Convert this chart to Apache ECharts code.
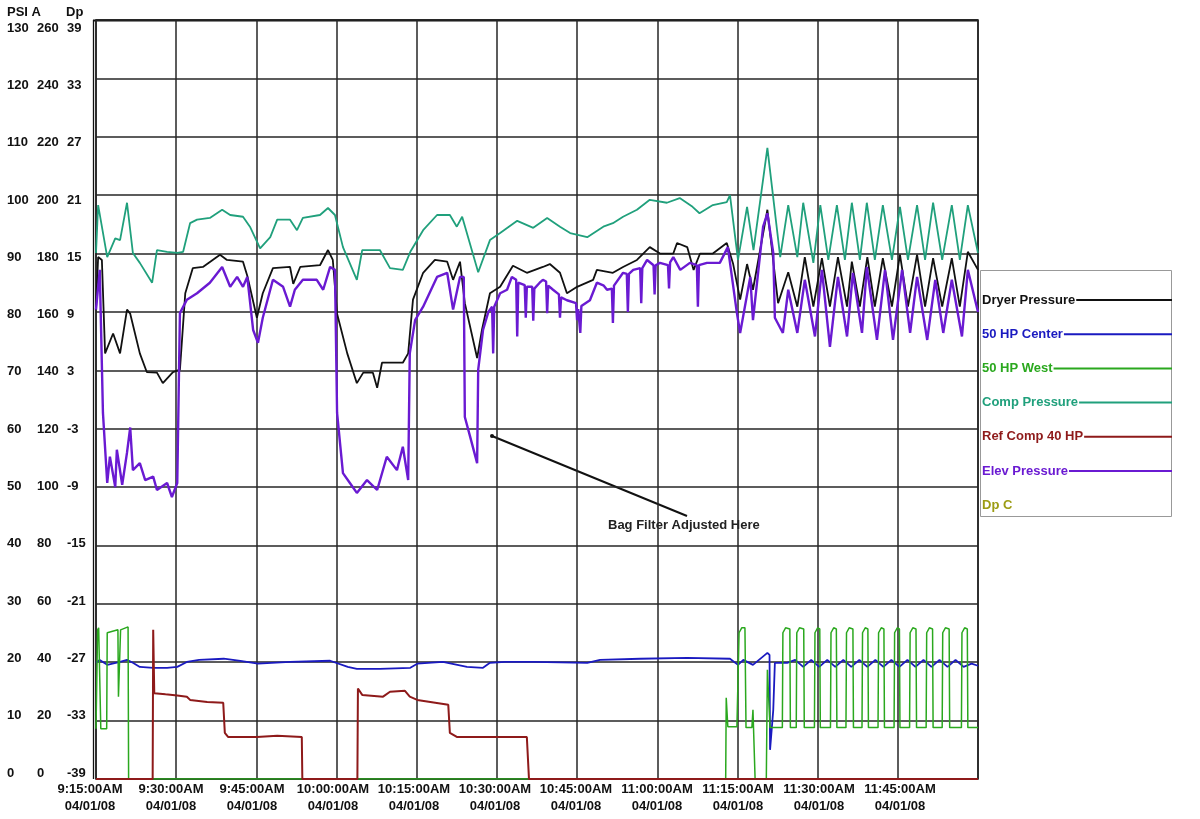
<!DOCTYPE html>
<html>
<head>
<meta charset="utf-8">
<script src="https://cdn.jsdelivr.net/npm/echarts@6/dist/echarts.min.js"></script>
<style>
html, body { margin: 0; padding: 0; background: #fff; }
#chart { width: 1200px; height: 819px; }
</style>
</head>
<body>
<div id="chart"></div>
<script>
// x values are minutes after 9:15:00AM
const xTickLabels = ['9:15:00AM\n04/01/08', '9:30:00AM\n04/01/08', '9:45:00AM\n04/01/08', '10:00:00AM\n04/01/08',
  '10:15:00AM\n04/01/08', '10:30:00AM\n04/01/08', '10:45:00AM\n04/01/08', '11:00:00AM\n04/01/08',
  '11:15:00AM\n04/01/08', '11:30:00AM\n04/01/08', '11:45:00AM\n04/01/08', ''];
const psiTicks = ['0', '10', '20', '30', '40', '50', '60', '70', '80', '90', '100', '110', '120', '130'];
const ampTicks = ['0', '20', '40', '60', '80', '100', '120', '140', '160', '180', '200', '220', '240', '260'];
const dpTicks = ['-39', '-33', '-27', '-21', '-15', '-9', '-3', '3', '9', '15', '21', '27', '33', '39'];

// Dryer Pressure (PSI A)
const dryerTime = [0, 0.4, 1.1, 1.7, 3.2, 4.5, 5.8, 6.4, 8.2, 9.5,
  11.4, 12.5, 14.4, 15.7, 16.7, 18.1, 20.0, 23.2, 24.5, 27.5,
  28.3, 30.1, 31.2, 33.1, 36.3, 36.9, 38.2, 41.9, 43.4, 44.3,
  45.1, 47.0, 48.8, 50.0, 51.8, 52.6, 53.5, 57.4, 58.4, 59.3,
  61.2, 63.4, 65.7, 66.8, 68.1, 69.0, 71.3, 72.2, 73.7, 75.6,
  78.0, 80.6, 83.6, 84.9, 86.8, 88.1, 90.0, 93.0, 93.7, 96.7,
  98.6, 101.2, 103.6, 105.5, 108.0, 108.7, 110.6, 111.8, 113.0, 115.4,
  118.0, 119.2, 120.5, 121.8, 122.9, 125.6, 127.6, 129.5, 131.2, 132.6,
  134.2, 135.8, 137.3, 138.8, 140.5, 141.4, 142.9, 144.3, 145.7, 147.2,
  148.9, 150.4, 151.9, 153.6, 155.1, 156.6, 158.3, 160.1, 161.6, 163.1,
  165];
const dryerVal = [80.4, 89.4, 88.9, 72.9, 76.3, 72.9, 80.4, 79.7, 72.9, 69.7,
  69.6, 67.8, 69.7, 70.1, 83.2, 87.5, 87.7, 89.8, 88.9, 88.6,
  86.2, 79.0, 83.2, 87.5, 87.7, 84.8, 87.7, 88.0, 90.6, 88.9,
  79.7, 72.9, 67.8, 69.6, 69.6, 67.0, 71.3, 71.3, 72.9, 82.1,
  86.7, 88.9, 88.6, 85.5, 88.6, 81.5, 72.1, 76.9, 83.2, 84.3,
  87.9, 86.7, 87.7, 88.2, 86.7, 83.2, 84.3, 85.5, 87.2, 86.7,
  87.7, 88.9, 91.1, 90.0, 90.0, 91.8, 91.1, 87.2, 90.0, 90.0,
  91.8, 88.2, 82.1, 88.2, 83.8, 97.5, 81.5, 86.8, 80.9, 89.4,
  80.9, 89.2, 80.9, 89.4, 80.9, 88.6, 80.9, 89.4, 80.9, 89.2,
  80.9, 89.8, 80.9, 89.8, 80.9, 89.2, 80.9, 89.2, 80.9, 90.3,
  87.2];

// 50 HP Center (amps)
const centerTime = [0, 0.7, 2.1, 4.5, 5.8, 6.9, 8.2, 10.7, 13.3, 15.2,
  17.0, 19.3, 23.9, 27.0, 30.3, 36.3, 43.8, 47.1, 48.8, 53.1,
  58.8, 60.1, 64.9, 69.4, 72.4, 73.7, 76.5, 81.8, 91.9, 94.3,
  101.8, 110.6, 118.6, 120.1, 121.1, 122.9, 125.6, 126.0, 126.1, 126.7,
  127.0, 129.3, 130.8, 132.3, 133.8, 135.3, 136.8, 138.3, 139.8, 141.3,
  142.8, 144.3, 145.8, 147.3, 148.8, 150.3, 151.8, 153.3, 154.8, 156.3,
  157.8, 159.3, 160.8, 162.3, 163.8, 165];
const centerVal = [39.8, 40.8, 39.1, 40.1, 40.8, 39.8, 38.4, 38.1, 38.1, 38.4,
  40.1, 40.8, 41.2, 40.5, 39.5, 40.1, 40.5, 38.4, 37.7, 37.7,
  38.1, 39.5, 40.1, 38.4, 38.1, 39.8, 40.1, 40.1, 39.8, 40.8,
  41.2, 41.5, 41.2, 39.1, 40.8, 39.1, 43.2, 42.5, 10.0, 23.7,
  39.8, 39.8, 40.8, 38.4, 40.8, 38.4, 40.8, 38.4, 40.8, 38.4,
  40.8, 38.4, 40.8, 38.4, 40.8, 38.4, 40.8, 38.4, 40.8, 38.4,
  40.8, 38.4, 40.8, 38.4, 39.5, 38.8];

// 50 HP West (amps)
const westTime = [0, 0.3, 0.5, 0.8, 0.9, 2.0, 2.1, 4.1, 4.2, 4.6,
  6.0, 6.1, 117.8, 117.9, 118.2, 119.9, 120.3, 120.8, 121.4, 121.6,
  122.7, 122.9, 123.3, 125.4, 125.6, 126.1, 128.4, 128.5, 129.0, 129.8,
  129.9, 131.0, 131.1, 131.6, 132.4, 132.5, 134.4, 134.5, 135.0, 135.4,
  135.5, 137.4, 137.5, 138.0, 138.5, 138.6, 140.3, 140.4, 140.9, 141.6,
  141.7, 143.3, 143.4, 143.9, 144.4, 144.5, 146.3, 146.4, 146.9, 147.4,
  147.5, 149.3, 149.4, 149.9, 150.3, 150.4, 152.2, 152.3, 152.8, 153.4,
  153.5, 155.3, 155.4, 155.9, 156.5, 156.6, 158.3, 158.4, 158.9, 159.6,
  159.7, 161.9, 162.0, 162.5, 163.0, 163.1, 165];
const westVal = [17.2, 51.1, 51.8, 51.8, 17.2, 17.2, 50.1, 51.1, 28.2, 51.1,
  52.1, 0, 0, 27.8, 17.9, 17.9, 50.1, 51.8, 51.8, 17.6,
  17.6, 23.7, 0, 0, 37.4, 17.6, 17.6, 50.1, 51.8, 51.4,
  17.6, 17.6, 50.1, 51.8, 51.4, 17.6, 17.6, 50.1, 51.8, 51.4,
  17.6, 17.6, 50.1, 51.8, 51.4, 17.6, 17.6, 50.1, 51.8, 51.4,
  17.6, 17.6, 50.1, 51.8, 51.4, 17.6, 17.6, 50.1, 51.8, 51.4,
  17.6, 17.6, 50.1, 51.8, 51.4, 17.6, 17.6, 50.1, 51.8, 51.4,
  17.6, 17.6, 50.1, 51.8, 51.4, 17.6, 17.6, 50.1, 51.8, 51.4,
  17.6, 17.6, 50.1, 51.8, 51.4, 17.6, 17.6];

// Comp Pressure (PSI A)
const compTime = [0, 0.4, 2.1, 3.6, 4.5, 5.8, 6.9, 8.2, 10.5, 11.4,
  13.3, 15.2, 16.3, 17.6, 18.9, 21.3, 23.6, 25.1, 27.5, 28.8,
  30.7, 32.6, 33.9, 36.3, 37.6, 38.7, 41.9, 43.4, 44.7, 46.2,
  48.8, 49.8, 53.1, 55.0, 57.4, 58.8, 61.2, 63.8, 66.2, 67.5,
  68.5, 71.5, 73.7, 75.6, 78.8, 81.8, 84.4, 86.8, 88.7, 91.9,
  94.9, 96.7, 98.6, 101.2, 103.6, 106.8, 109.2, 111.6, 112.9, 115.4,
  118.0, 118.6, 120.1, 121.8, 123.0, 125.6, 128.0, 129.5, 131.2, 132.3,
  134.2, 135.5, 137.0, 138.6, 140.1, 141.4, 142.9, 144.2, 145.7, 147.2,
  148.9, 150.4, 151.9, 153.6, 155.1, 156.6, 158.3, 160.1, 161.6, 163.1,
  165];
const compVal = [90.1, 98.3, 89.4, 92.6, 92.3, 98.7, 90.1, 88.4, 85.0, 90.6,
  90.3, 90.1, 90.3, 95.2, 95.8, 96.1, 97.5, 96.6, 96.3, 94.6,
  90.9, 92.8, 95.8, 95.8, 94.0, 96.1, 96.6, 97.8, 96.6, 91.1,
  85.5, 90.6, 90.6, 87.5, 87.2, 90.3, 94.0, 96.6, 96.6, 94.6,
  96.3, 86.8, 92.3, 93.5, 95.6, 94.4, 96.1, 94.6, 93.5, 92.8,
  94.6, 95.2, 96.3, 97.5, 99.2, 98.7, 99.5, 98.0, 96.9, 98.3,
  98.8, 100.0, 88.9, 98.0, 90.6, 108.1, 89.4, 98.3, 89.4, 98.7,
  88.4, 98.3, 88.9, 98.3, 88.9, 98.7, 88.9, 98.7, 88.9, 98.3,
  88.9, 98.0, 88.9, 98.3, 88.9, 98.7, 88.9, 98.3, 88.9, 98.3,
  90.1];

// Ref Comp 40 HP (amps)
const refTime = [0, 10.6, 10.7, 10.9, 13.0, 15.2, 17.0, 17.6, 20.8, 23.8,
  24.1, 24.7, 30.1, 33.9, 38.5, 38.6, 48.9, 49.0, 49.8, 53.7,
  55.0, 57.8, 58.7, 60.1, 65.9, 66.2, 67.5, 80.6, 81.0, 165];
const refVal = [0, 0, 51.1, 29.4, 29.0, 28.6, 28.2, 27.1, 26.4, 26.1,
  15.8, 14.4, 14.4, 14.8, 14.4, 0, 0, 31.0, 28.8, 28.2,
  29.9, 30.2, 28.2, 27.1, 25.4, 15.8, 14.4, 14.4, 0, 0];

// Elev Pressure (PSI A)
const elevTime = [0, 0.7, 1.3, 2.1, 2.6, 3.6, 3.9, 4.9, 5.8, 6.4,
  6.9, 8.2, 9.2, 10.7, 11.4, 13.3, 14.2, 15.2, 15.7, 17.0,
  18.9, 21.3, 23.6, 25.1, 26.4, 27.5, 28.3, 29.4, 30.3, 31.2,
  33.1, 35.0, 36.3, 37.2, 38.7, 41.3, 42.5, 43.8, 44.7, 45.1,
  46.2, 47.5, 48.8, 50.7, 52.6, 54.4, 56.3, 57.4, 58.4, 58.7,
  59.7, 61.2, 63.8, 65.7, 66.8, 68.1, 68.8, 69.0, 70.0, 71.3,
  71.5, 72.4, 73.4, 74.1, 74.3, 74.5, 75.6, 76.9, 77.8, 78.6,
  78.8, 79.0, 80.2, 80.4, 80.6, 81.6, 81.8, 82.0, 83.0, 83.6,
  84.2, 84.4, 84.6, 85.5, 86.6, 86.8, 87.0, 88.1, 89.8, 90.0,
  90.2, 90.6, 90.8, 92.4, 93.7, 95.0, 95.6, 96.5, 96.7, 96.9,
  98.6, 99.3, 99.5, 99.7, 100.5, 101.8, 102.0, 102.2, 103.1, 104.3,
  104.5, 104.7, 105.5, 107.0, 107.2, 107.4, 108.0, 109.3, 111.1, 112.4,
  112.6, 112.8, 114.3, 116.7, 118.2, 119.9, 120.5, 122.4, 122.9, 124.8,
  125.6, 126.7, 127.0, 128.5, 129.5, 131.2, 132.6, 134.5, 135.8, 137.3,
  138.8, 140.5, 141.6, 143.3, 144.2, 146.1, 147.6, 149.1, 150.8, 152.3,
  153.6, 155.5, 157.0, 158.5, 160.1, 162.0, 163.1, 165];
const elevVal = [80.4, 87.2, 62.7, 50.7, 55.2, 50.0, 56.4, 50.4, 55.9, 60.2,
  52.9, 54.1, 51.2, 51.8, 49.5, 50.7, 48.3, 50.7, 79.8, 82.1,
  83.2, 85.0, 87.7, 84.3, 86.0, 84.3, 86.0, 76.9, 74.7, 79.0,
  85.5, 84.3, 80.9, 83.8, 85.5, 85.5, 83.8, 87.7, 87.2, 62.7,
  52.4, 50.7, 49.0, 51.2, 49.5, 55.2, 52.9, 56.9, 51.2, 72.9,
  78.6, 80.9, 86.0, 86.7, 80.4, 86.0, 86.0, 62.0, 58.6, 54.1,
  70.1, 76.9, 80.0, 80.9, 72.9, 80.9, 83.2, 83.8, 86.0, 85.5,
  75.8, 85.0, 84.6, 79.0, 84.3, 84.3, 78.5, 84.0, 85.0, 85.5,
  85.2, 79.8, 84.5, 83.8, 83.0, 79.0, 82.5, 82.0, 81.5, 78.6,
  80.5, 76.4, 81.0, 82.0, 85.0, 84.5, 83.8, 84.0, 78.1, 84.5,
  86.7, 86.5, 80.0, 86.5, 87.2, 87.5, 81.5, 87.5, 88.9, 88.0,
  83.0, 88.0, 88.4, 88.0, 84.0, 88.5, 89.4, 87.2, 88.4, 88.0,
  80.9, 88.0, 88.4, 88.4, 91.1, 79.8, 76.4, 86.0, 78.6, 94.6,
  96.9, 90.1, 79.0, 76.4, 83.8, 76.4, 85.5, 75.8, 87.2, 74.0,
  86.0, 75.8, 86.7, 76.4, 87.7, 75.2, 87.2, 75.2, 87.2, 76.4,
  86.0, 75.2, 85.5, 76.4, 85.5, 75.8, 87.2, 80.0];

// Dp C has no visible trace
const dpcTime = [];
const dpcVal = [];

const FAMILY = '"Liberation Sans", Arial, sans-serif';
const FONT = 'bold 13px ' + FAMILY;
const pairs = (t, v) => t.map((x, i) => [x, v[i]]);

const legendItems = [
  { name: 'Dryer Pressure', color: '#111111', line: true },
  { name: '50 HP Center', color: '#1a1ac0', line: true },
  { name: '50 HP West', color: '#2aa81e', line: true },
  { name: 'Comp Pressure', color: '#20a07c', line: true },
  { name: 'Ref Comp 40 HP', color: '#8e1a1a', line: true },
  { name: 'Elev Pressure', color: '#6a1ad2', line: true },
  { name: 'Dp C', color: '#9c9c14', line: false }
];

const measure = document.createElement('canvas').getContext('2d');
measure.font = FONT;

const graphics = [
  // double left border and heavier top border
  { type: 'line', silent: true, shape: { x1: 93.5, y1: 20, x2: 93.5, y2: 779 }, style: { stroke: '#111', lineWidth: 1.3 } },
  { type: 'line', silent: true, shape: { x1: 93, y1: 20.5, x2: 978, y2: 20.5 }, style: { stroke: '#111', lineWidth: 2 } },
  // axis headers
  { type: 'text', silent: true, x: 7, y: 12, style: { text: 'PSI A', font: FONT, fill: '#111', verticalAlign: 'middle' } },
  { type: 'text', silent: true, x: 66, y: 12, style: { text: 'Dp', font: FONT, fill: '#111', verticalAlign: 'middle' } },
  // legend box
  { type: 'rect', silent: true, shape: { x: 980.5, y: 270.5, width: 191, height: 246 }, style: { fill: '#fff', stroke: '#999', lineWidth: 1 } },
  // annotation
  { type: 'line', silent: true, shape: { x1: 492, y1: 436, x2: 687, y2: 516 }, style: { stroke: '#111', lineWidth: 2 } },
  { type: 'circle', silent: true, shape: { cx: 492, cy: 436, r: 2 }, style: { fill: '#111' } },
  { type: 'text', silent: true, x: 608, y: 525, style: { text: 'Bag Filter Adjusted Here', font: FONT, fill: '#222', verticalAlign: 'middle' } }
];

legendItems.forEach((it, i) => {
  const y = 300 + i * 34.2;
  graphics.push({ type: 'text', silent: true, x: 982, y: y, style: { text: it.name, font: FONT, fill: it.color, verticalAlign: 'middle' } });
  if (it.line) {
    const w = measure.measureText(it.name).width;
    graphics.push({ type: 'line', silent: true, shape: { x1: 982 + w + 1, y1: y, x2: 1172, y2: y }, style: { stroke: it.color, lineWidth: 2 } });
  }
});

const gridLine = { show: true, lineStyle: { color: '#262626', width: 1.5 } };
const labelAxisBase = {
  gridIndex: 1, type: 'value', min: 0, max: 13, interval: 1, position: 'left',
  axisLine: { show: false }, axisTick: { show: false }, splitLine: { show: false }
};
const labelText = { fontWeight: 'bold', fontSize: 13, fontFamily: FAMILY, color: '#111' };

const chart = echarts.init(document.getElementById('chart'));
chart.setOption({
  animation: false,
  backgroundColor: '#fff',
  grid: [
    { left: 96, right: 222, top: 20, bottom: 40, show: true, borderColor: '#111', borderWidth: 1.5, outerBoundsMode: 'none' },
    // label placement grid (labels in the original sit slightly off the gridlines)
    { left: 90, right: 219, top: 28, bottom: 46, show: false, outerBoundsMode: 'none' }
  ],
  xAxis: [
    { gridIndex: 0, type: 'value', min: 0, max: 165, interval: 15,
      axisLine: { show: false }, axisTick: { show: false }, axisLabel: { show: false }, splitLine: gridLine },
    { gridIndex: 1, type: 'value', min: 0, max: 165, interval: 15,
      axisLine: { show: false }, axisTick: { show: false }, splitLine: { show: false },
      axisLabel: Object.assign({ margin: 8, lineHeight: 17, showMinLabel: true, showMaxLabel: true,
        formatter: v => xTickLabels[Math.round(v / 15)] }, labelText) }
  ],
  yAxis: [
    { gridIndex: 0, type: 'value', min: 0, max: 130, interval: 10,
      axisLine: { show: false }, axisTick: { show: false }, axisLabel: { show: false }, splitLine: gridLine },
    { gridIndex: 0, type: 'value', min: 0, max: 260, show: false },
    { gridIndex: 0, type: 'value', min: -39, max: 39, show: false },
    Object.assign({}, labelAxisBase, { axisLabel: Object.assign({ align: 'left', margin: 83, formatter: v => psiTicks[Math.round(v)] }, labelText) }),
    Object.assign({}, labelAxisBase, { axisLabel: Object.assign({ align: 'left', margin: 53, formatter: v => ampTicks[Math.round(v)] }, labelText) }),
    Object.assign({}, labelAxisBase, { axisLabel: Object.assign({ align: 'left', margin: 23, formatter: v => dpTicks[Math.round(v)] }, labelText) })
  ],
  series: [
    { name: 'Dryer Pressure', type: 'line', xAxisIndex: 0, yAxisIndex: 0, showSymbol: false,
      lineStyle: { color: '#111111', width: 1.8 }, data: pairs(dryerTime, dryerVal) },
    { name: '50 HP Center', type: 'line', xAxisIndex: 0, yAxisIndex: 1, showSymbol: false,
      lineStyle: { color: '#1a1ac0', width: 1.8 }, data: pairs(centerTime, centerVal) },
    { name: '50 HP West', type: 'line', xAxisIndex: 0, yAxisIndex: 1, showSymbol: false,
      lineStyle: { color: '#2aa81e', width: 1.5 }, data: pairs(westTime, westVal) },
    { name: 'Comp Pressure', type: 'line', xAxisIndex: 0, yAxisIndex: 0, showSymbol: false,
      lineStyle: { color: '#20a07c', width: 1.8 }, data: pairs(compTime, compVal) },
    { name: 'Ref Comp 40 HP', type: 'line', xAxisIndex: 0, yAxisIndex: 1, showSymbol: false,
      lineStyle: { color: '#8e1a1a', width: 2 }, data: pairs(refTime, refVal) },
    { name: 'Elev Pressure', type: 'line', xAxisIndex: 0, yAxisIndex: 0, showSymbol: false,
      lineStyle: { color: '#6a1ad2', width: 2.4 }, data: pairs(elevTime, elevVal) },
    { name: 'Dp C', type: 'line', xAxisIndex: 0, yAxisIndex: 2, showSymbol: false,
      lineStyle: { color: '#9c9c14', width: 1.5 }, data: pairs(dpcTime, dpcVal) }
  ],
  graphic: graphics
});
</script>
</body>
</html>
